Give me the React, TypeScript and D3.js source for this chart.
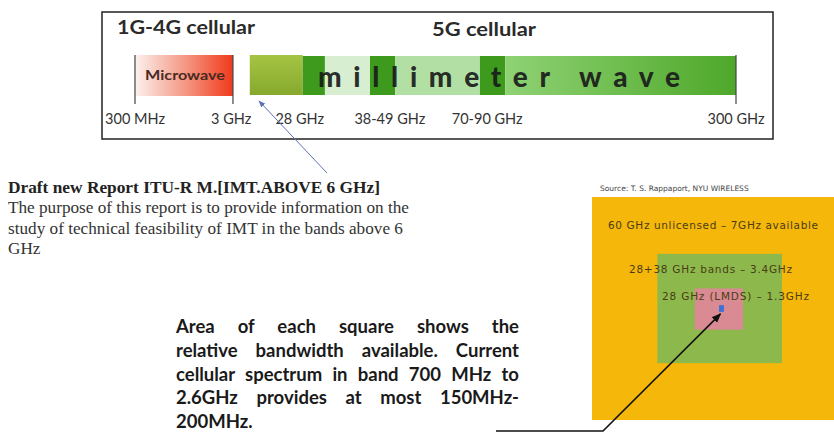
import { useEffect, useRef } from "react";
import * as d3 from "d3";

// ---------- DATA ----------
// spectrum axis in schematic units: 0 = 300 MHz, 100 = 300 GHz
const tickLabels = ["300 MHz", "3 GHz", "28 GHz", "38-49 GHz", "70-90 GHz", "300 GHz"];
const tickUnits = [0, 16, 27.4, 42.4, 58.6, 100];
const tickLines = [0, 16.3, 100];

const bandNames = ["28 GHz", "dark1", "light1", "dark2", "light2", "dark3", "rest"];
const bandStart = [19.1, 27.9, 31.6, 39.1, 43.3, 57.4, 61.6];
const bandEnd = [27.9, 31.6, 39.1, 43.3, 57.4, 61.6, 100];
const microwave = [0, 16.3];

// bandwidth squares (panel units), largest to smallest
const squareLabels = ["60 GHz unlicensed – 7GHz available", "28+38 GHz bands – 3.4GHz", "28 GHz (LMDS) – 1.3GHz", "current"];
const squareX0 = [0, 27, 42.5, 52.5];
const squareX1 = [100, 78.5, 62.4, 54.5];
const squareY0 = [0, 25.5, 41, 48.5];
const squareY1 = [100, 74.5, 59.5, 51.5];

const reportTitle = "Draft new Report ITU-R M.[IMT.ABOVE 6 GHz]";
const reportLines = [
  "The purpose of this report is to provide information on the",
  "study of technical feasibility of IMT in the bands above 6",
  "GHz",
];
const noteLines = [
  "Area of each square shows the",
  "relative bandwidth available. Current",
  "cellular spectrum in band 700 MHz to",
  "2.6GHz provides at most 150MHz-",
  "200MHz.",
];

const W = 834;
const H = 441;

export default function App() {
  const noteRef = useRef<SVGGElement>(null);

  const x = d3.scaleLinear().domain([0, 100]).range([135, 736]);
  const sx = d3.scaleLinear().domain([0, 100]).range([592, 834]);
  const sy = d3.scaleLinear().domain([0, 100]).range([197, 420]);
  const noteY = d3.scalePoint<number>().domain(d3.range(noteLines.length)).range([333, 428]);
  const reportY = d3.scalePoint<number>().domain(d3.range(reportLines.length + 1)).range([193, 254]);

  const bandFill = ["url(#g28)", "#3d9a1c", "#d8eed0", "#3d9a1c", "#b2e0a4", "#3d9a1c", "url(#gRest)"];
  const squareFill = ["#f5b70a", "#8db94c", "#d98a93", "#3d6fd6"];

  // justify note lines (all but the last)
  useEffect(() => {
    if (!noteRef.current) return;
    const left = 176, right = 519;
    d3.select(noteRef.current).selectAll<SVGTextElement, unknown>("text").each(function (_, i) {
      if (i === noteLines.length - 1) return;
      const el = d3.select(this).attr("word-spacing", 0);
      const natural = this.getComputedTextLength();
      const gaps = noteLines[i].split(" ").length - 1;
      if (gaps > 0) el.attr("word-spacing", (right - left - natural) / gaps);
    });
  }, []);

  return (
    <svg width={W} height={H} style={{ position: "absolute", left: 0, top: 0, background: "#fff" }}>
      <defs>
        <linearGradient id="gMicro" x1="0" x2="1" y1="0" y2="0">
          <stop offset="0" stopColor="#fbf1ee" />
          <stop offset="0.5" stopColor="#f59a86" />
          <stop offset="1" stopColor="#f03a1c" />
        </linearGradient>
        <linearGradient id="g28" x1="0" x2="0" y1="0" y2="1">
          <stop offset="0" stopColor="#a6c443" />
          <stop offset="1" stopColor="#86a92e" />
        </linearGradient>
        <linearGradient id="gRest" x1="0" x2="1" y1="0" y2="0">
          <stop offset="0" stopColor="#8fd274" />
          <stop offset="1" stopColor="#4ea82a" />
        </linearGradient>
        <marker id="arrBlue" viewBox="0 0 10 10" refX="9" refY="5" markerWidth="7" markerHeight="7" orient="auto">
          <path d="M0,1 L10,5 L0,9 Z" fill="#5a72b4" />
        </marker>
        <marker id="arrBlack" viewBox="0 0 10 10" refX="9" refY="5" markerWidth="6" markerHeight="6" orient="auto">
          <path d="M0,1 L10,5 L0,9 Z" fill="#111" />
        </marker>
      </defs>

      {/* ---------- SPECTRUM BOX ---------- */}
      <rect x={102} y={12} width={671} height={127} fill="#fff" stroke="#222" strokeWidth={1.5} />
      <text x={117} y={34} fontFamily="Lato" fontWeight={700} fontSize={19} fill="#2a2a2a" textLength={138} lengthAdjust="spacingAndGlyphs">1G-4G cellular</text>
      <text x={432} y={36} fontFamily="Lato" fontWeight={700} fontSize={18} fill="#2a2a2a" textLength={104} lengthAdjust="spacingAndGlyphs">5G cellular</text>

      <rect x={x(microwave[0])} y={55} width={x(microwave[1]) - x(microwave[0])} height={41} fill="url(#gMicro)" />
      <text x={145} y={80} fontFamily="Lato" fontWeight={700} fontSize={13.5} fill="#4a2a22" textLength={80} lengthAdjust="spacingAndGlyphs">Microwave</text>

      {bandNames.map((b, i) => (
        <rect key={b} x={x(bandStart[i])} y={i === 0 ? 55 : 56} width={x(bandEnd[i]) - x(bandStart[i])} height={i === 0 ? 40 : 39} fill={bandFill[i]} />
      ))}
      <text x={318} y={87} fontFamily="Lato" fontWeight={900} fontSize={28} fill="#1a1a1a" fillOpacity={0.92} textLength={362} lengthAdjust="spacing">millimeter wave</text>

      {tickLines.map((t) => (
        <line key={t} x1={x(t)} x2={x(t)} y1={55} y2={104} stroke="#444" strokeWidth={1.2} />
      ))}
      {tickLabels.map((l, i) => (
        <text key={l} x={x(tickUnits[i])} y={124} textAnchor="middle" fontFamily="Lato" fontSize={14.5} fill="#333">{l}</text>
      ))}

      <line x1={327} y1={173} x2={259} y2={101} stroke="#5a72b4" strokeWidth={1} markerEnd="url(#arrBlue)" />

      {/* ---------- REPORT TEXT ---------- */}
      <text x={8} y={reportY(0)} fontFamily="Liberation Serif" fontWeight={700} fontSize={17} fill="#222" textLength={372} lengthAdjust="spacingAndGlyphs">{reportTitle}</text>
      {reportLines.map((l, i) => (
        <text key={i} x={8} y={reportY(i + 1)} fontFamily="Liberation Serif" fontSize={17.2} fill="#333">{l}</text>
      ))}

      {/* ---------- BANDWIDTH SQUARES ---------- */}
      <text x={600} y={191} fontFamily="DejaVu Sans" fontSize={7.5} fill="#444">Source: T. S. Rappaport, NYU WIRELESS</text>
      {squareLabels.map((s, i) => (
        <rect key={s} x={sx(squareX0[i])} y={sy(squareY0[i])} width={sx(squareX1[i]) - sx(squareX0[i])} height={sy(squareY1[i]) - sy(squareY0[i])} fill={squareFill[i]} />
      ))}
      <text x={608} y={229} fontFamily="DejaVu Sans" fontSize={10.5} fill="#4a3c14" textLength={210}>{squareLabels[0]}</text>
      <text x={629} y={273} fontFamily="DejaVu Sans" fontSize={10.5} fill="#4a3c14" textLength={163}>{squareLabels[1]}</text>
      <text x={662} y={300} fontFamily="DejaVu Sans" fontSize={10.5} fill="#4a3c14" textLength={147}>{squareLabels[2]}</text>

      <polyline
        points={`496,431 603,431 ${sx((squareX0[3] + squareX1[3]) / 2) - 1},${sy(squareY1[3]) + 2}`}
        fill="none" stroke="#111" strokeWidth={1.6} markerEnd="url(#arrBlack)"
      />

      {/* ---------- NOTE ---------- */}
      <g ref={noteRef}>
        {noteLines.map((l, i) => (
          <text key={i} x={176} y={noteY(i)} fontFamily="Lato" fontWeight={700} fontSize={18.5} fill="#1a1a1a">{l}</text>
        ))}
      </g>
    </svg>
  );
}
